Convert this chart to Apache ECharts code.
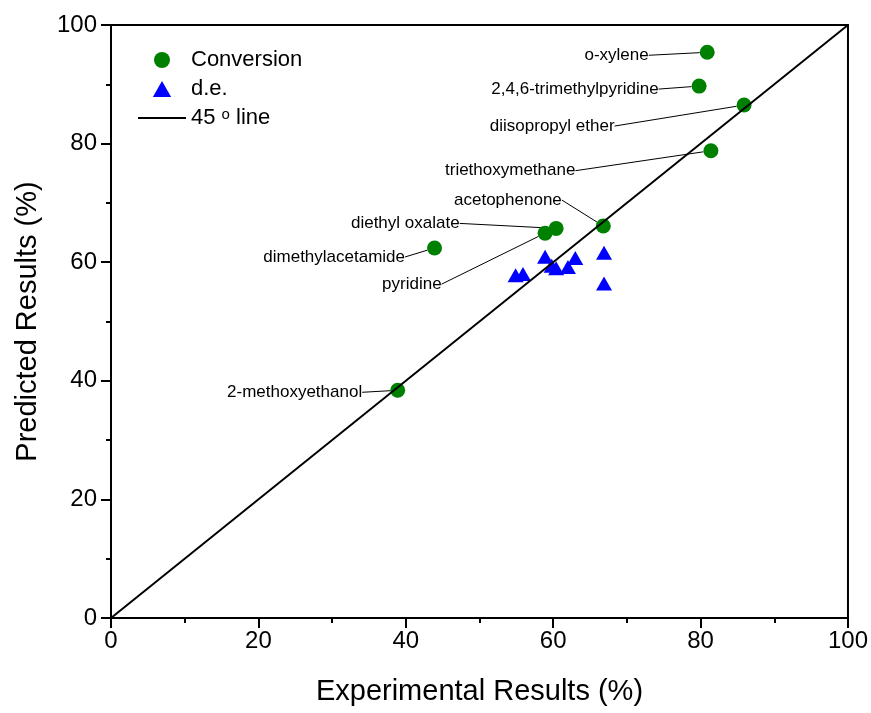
<!DOCTYPE html>
<html>
<head>
<meta charset="utf-8">
<title>Predicted vs Experimental</title>
<script src="https://cdn.jsdelivr.net/npm/echarts@6/dist/echarts.min.js"></script>
<style>
  html, body { margin: 0; padding: 0; background: #fff; }
  .box { width: 871px; height: 713px; }
</style>
</head>
<body>
<div class="box"></div>
<script>
// 溶剂名称与转化率（实验值 / 预测值）
var solvents = ['o-xylene', '2,4,6-trimethylpyridine', 'diisopropyl ether', 'triethoxymethane',
    'acetophenone', 'diethyl oxalate', 'pyridine', 'dimethylacetamide', '2-methoxyethanol'];
var convExp = [80.9, 79.8, 85.9, 81.4, 66.8, 60.4, 58.9, 43.9, 38.9];
var convPred = [95.4, 89.7, 86.5, 78.8, 66.1, 65.7, 64.9, 62.4, 38.4];

// d.e. 数据点
var deExp = [54.9, 55.9, 58.9, 59.8, 60.4, 62.0, 63.0, 66.9, 66.9];
var dePred = [57.8, 58.0, 60.9, 59.4, 59.0, 59.2, 60.7, 61.6, 56.4];

// 45 度参考线
var diagX = [0, 100];
var diagY = [0, 100];

// 坐标轴刻度
var axisMin = 0, axisMax = 100, axisStep = 20;

(function () {
    var myChart = echarts.init(document.querySelector(".box"));
    var font = 'Liberation Sans, Arial, sans-serif';

    // 标签相对于默认位置（点左侧）的偏移
    var labelShift = [
        [-46, 3], [-28, 3], [-117, 21], [-123, 20],
        [-29, -26], [-84, -5], [-91, 51], [-17, 9], [-23, 2]
    ];

    var convData = solvents.map(function (n, i) {
        return { name: n, value: [convExp[i], convPred[i]] };
    });
    var deData = deExp.map(function (x, i) { return [x, dePred[i]]; });
    var lineData = diagX.map(function (x, i) { return [x, diagY[i]]; });

    var axisCommon = {
        type: 'value',
        min: axisMin,
        max: axisMax,
        interval: axisStep,
        nameLocation: 'middle',
        nameTextStyle: { fontSize: 29, color: '#000', fontFamily: font },
        axisLine: { show: true, onZero: false, lineStyle: { color: '#000', width: 2 } },
        axisTick: { show: true, inside: false, length: 10, lineStyle: { color: '#000', width: 2 } },
        minorTick: { show: true, splitNumber: 2, length: 5, lineStyle: { color: '#000', width: 2 } },
        splitLine: { show: false },
        axisLabel: { fontSize: 24, color: '#000', fontFamily: font }
    };

    var option = {
        animation: false,
        grid: {
            left: 111, right: 23, top: 25, bottom: 95,
            show: true, borderColor: '#000', borderWidth: 2
        },
        legend: {
            orient: 'vertical',
            left: 137,
            top: 49,
            padding: 0,
            itemWidth: 48,
            itemHeight: 16,
            itemGap: 7,
            symbolKeepAspect: true,
            data: [
                { name: 'Conversion' },
                // 图例中的三角形保持原比例
                { name: 'd.e.', icon: 'path://M8,0 L16,14 L0,14 Z' },
                { name: '45 o line', itemStyle: { opacity: 0 } }
            ],
            formatter: function (name) {
                return name === '45 o line' ? '45 {sup|o} line' : name;
            },
            textStyle: {
                fontSize: 22, color: '#000', fontFamily: font, lineHeight: 22,
                rich: { sup: { fontSize: 15, verticalAlign: 'top', padding: [0, 0, 10, 0], fontFamily: font } }
            }
        },
        xAxis: Object.assign({}, axisCommon, {
            name: 'Experimental Results (%)',
            nameGap: 59,
            axisLabel: Object.assign({}, axisCommon.axisLabel, { margin: 11 })
        }),
        yAxis: Object.assign({}, axisCommon, {
            name: 'Predicted Results (%)',
            nameGap: 69,
            axisLabel: Object.assign({}, axisCommon.axisLabel, { margin: 14 })
        }),
        series: [
            {
                name: 'Conversion',
                type: 'scatter',
                symbol: 'circle',
                symbolSize: 15,
                itemStyle: { color: '#008000', opacity: 1 },
                data: convData,
                label: {
                    show: true,
                    position: 'left',
                    distance: 5,
                    formatter: '{b}',
                    fontSize: 17,
                    color: '#000',
                    fontFamily: font
                },
                labelLine: { show: true, lineStyle: { color: '#000', width: 1, opacity: 1 } },
                labelLayout: function (params) {
                    var s = labelShift[params.dataIndex];
                    return { dx: s[0], dy: s[1], hideOverlap: false };
                }
            },
            {
                name: 'd.e.',
                type: 'scatter',
                symbol: 'triangle',
                symbolSize: [16, 14],
                itemStyle: { color: '#0000ff', opacity: 1 },
                data: deData
            },
            {
                name: '45 o line',
                type: 'line',
                symbol: 'none',
                lineStyle: { color: '#000', width: 2 },
                itemStyle: { color: '#000' },
                data: lineData
            }
        ]
    };

    myChart.setOption(option);

    window.addEventListener("resize", function () {
        myChart.resize();
    });
})();
</script>
</body>
</html>
